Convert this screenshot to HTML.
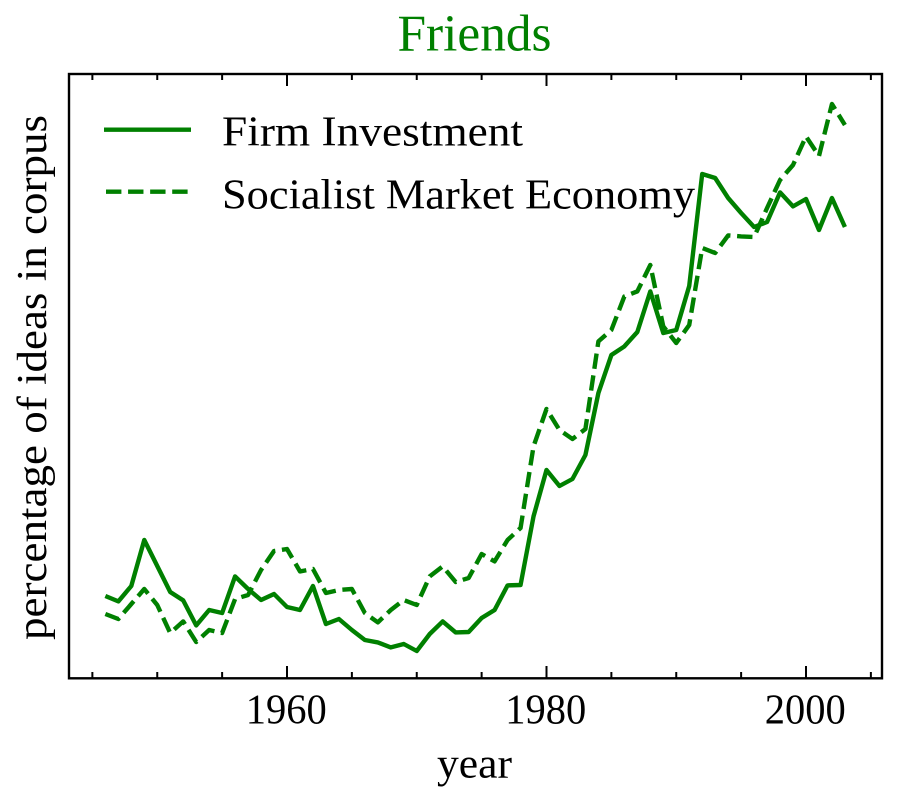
<!DOCTYPE html>
<html lang="en">
<head>
<meta charset="utf-8">
<title>Friends</title>
<style>
html,body{margin:0;padding:0;background:#fff;}
svg{display:block;font-family:"Liberation Serif",serif;}
</style>
</head>
<body>
<svg id="chart" xmlns="http://www.w3.org/2000/svg" width="897" height="799" viewBox="0 0 897 799">
<rect x="0" y="0" width="897" height="799" fill="#ffffff"/>
<g id="series-layer"></g>
<g id="tick-layer"></g>
<rect x="69" y="74" width="813" height="604.3" fill="none" stroke="#000" stroke-width="2.4"/>
<text x="474.5" y="50.7" text-anchor="middle" font-size="52" fill="#008000" textLength="154" lengthAdjust="spacingAndGlyphs">Friends</text>
<text x="474.5" y="777.5" text-anchor="middle" font-size="42" fill="#000" textLength="75" lengthAdjust="spacingAndGlyphs">year</text>
<text transform="translate(46,377.5) rotate(-90)" text-anchor="middle" font-size="42" fill="#000" textLength="525" lengthAdjust="spacingAndGlyphs">percentage of ideas in corpus</text>
<g>
<line x1="104" y1="129.7" x2="191" y2="129.7" stroke="#008000" stroke-width="4.4"/>
<text x="222" y="145.3" font-size="42" fill="#000" textLength="301" lengthAdjust="spacingAndGlyphs">Firm Investment</text>
<line x1="106" y1="191.7" x2="191" y2="191.7" stroke="#008000" stroke-width="4.4" stroke-dasharray="15.4 6.67"/>
<text x="222" y="208.5" font-size="42" fill="#000" textLength="473" lengthAdjust="spacingAndGlyphs">Socialist Market Economy</text>
</g>
</svg>
<script>
const years = [1946,1947,1948,1949,1950,1951,1952,1953,1954,1955,1956,1957,1958,1959,1960,1961,1962,1963,1964,1965,1966,1967,1968,1969,1970,1971,1972,1973,1974,1975,1976,1977,1978,1979,1980,1981,1982,1983,1984,1985,1986,1987,1988,1989,1990,1991,1992,1993,1994,1995,1996,1997,1998,1999,2000,2001,2002,2003];
const firmInvestment = [82,76.6,92,138,112,86,77.6,52.6,68,65,101.6,89,78,84,71,68,92,54,59,48,38,35.6,30.6,34,27,44,56.6,45.6,46,60,68,92.6,93,161.6,208,192,199,223,285,323,331.6,346,386.6,345,348,392,504,500,480,465,451,456,485.6,471.6,479,448,480,451];
const socialistMarketEconomy = [64,59,74,89,73,45,56.6,36,48,45,79,83,108,127,129,106.6,109,85,88,89,65,55.6,68,78,73,101.6,111.6,96,100,124,116.6,138,150,231.6,269,248,239,249,336.6,348,381.6,386.6,413,351.6,335,353,430,425,442.6,441.6,441,470,498,513,541.6,522,574,553];
const xTickValues = [1945,1950,1955,1960,1965,1970,1975,1980,1985,1990,1995,2000,2005];
const xTickLabels = [1960,1980,2000];
const yMax = 604;

function xScale(year){ return 287 + (year - 1960) * 12.975; }
function yScale(value){ return 678 - (value / yMax) * 604; }

const NS = 'http://www.w3.org/2000/svg';
const seriesLayer = document.getElementById('series-layer');
const tickLayer = document.getElementById('tick-layer');

function pathFor(values){
  return values.map(function(v,i){
    return (i ? 'L' : 'M') + xScale(years[i]).toFixed(2) + ' ' + yScale(v).toFixed(2);
  }).join(' ');
}

const firmPath = document.createElementNS(NS,'path');
firmPath.setAttribute('d', pathFor(firmInvestment));
firmPath.setAttribute('fill','none');
firmPath.setAttribute('stroke','#008000');
firmPath.setAttribute('stroke-width','4.4');
firmPath.setAttribute('stroke-linejoin','round');


seriesLayer.appendChild(firmPath);

const socialistPath = document.createElementNS(NS,'path');
socialistPath.setAttribute('d', pathFor(socialistMarketEconomy));
socialistPath.setAttribute('fill','none');
socialistPath.setAttribute('stroke','#008000');
socialistPath.setAttribute('stroke-width','4.4');
socialistPath.setAttribute('stroke-linejoin','round');
socialistPath.setAttribute('stroke-dasharray','15.4 6.67');


seriesLayer.appendChild(socialistPath);

xTickValues.forEach(function(t){
  const major = xTickLabels.indexOf(t) !== -1;
  const len = major ? 12 : 6;
  const x = xScale(t);
  const bottom = document.createElementNS(NS,'line');
  bottom.setAttribute('x1',x); bottom.setAttribute('x2',x);
  bottom.setAttribute('y1',678); bottom.setAttribute('y2',678 - len);
  bottom.setAttribute('stroke','#000'); bottom.setAttribute('stroke-width','2');
  
  
  tickLayer.appendChild(bottom);
  const top = document.createElementNS(NS,'line');
  top.setAttribute('x1',x); top.setAttribute('x2',x);
  top.setAttribute('y1',74); top.setAttribute('y2',74 + len);
  top.setAttribute('stroke','#000'); top.setAttribute('stroke-width','2');
  
  
  tickLayer.appendChild(top);
});

xTickLabels.forEach(function(t){
  const label = document.createElementNS(NS,'text');
  label.setAttribute('x',xScale(t) - 0.8);
  label.setAttribute('y',723.5);
  label.setAttribute('text-anchor','middle');
  label.setAttribute('font-size','42');
  label.setAttribute('fill','#000');
  label.setAttribute('textLength','81');
  label.setAttribute('lengthAdjust','spacingAndGlyphs');
  
  
  label.textContent = String(t);
  tickLayer.appendChild(label);
});
</script>
</body>
</html>
